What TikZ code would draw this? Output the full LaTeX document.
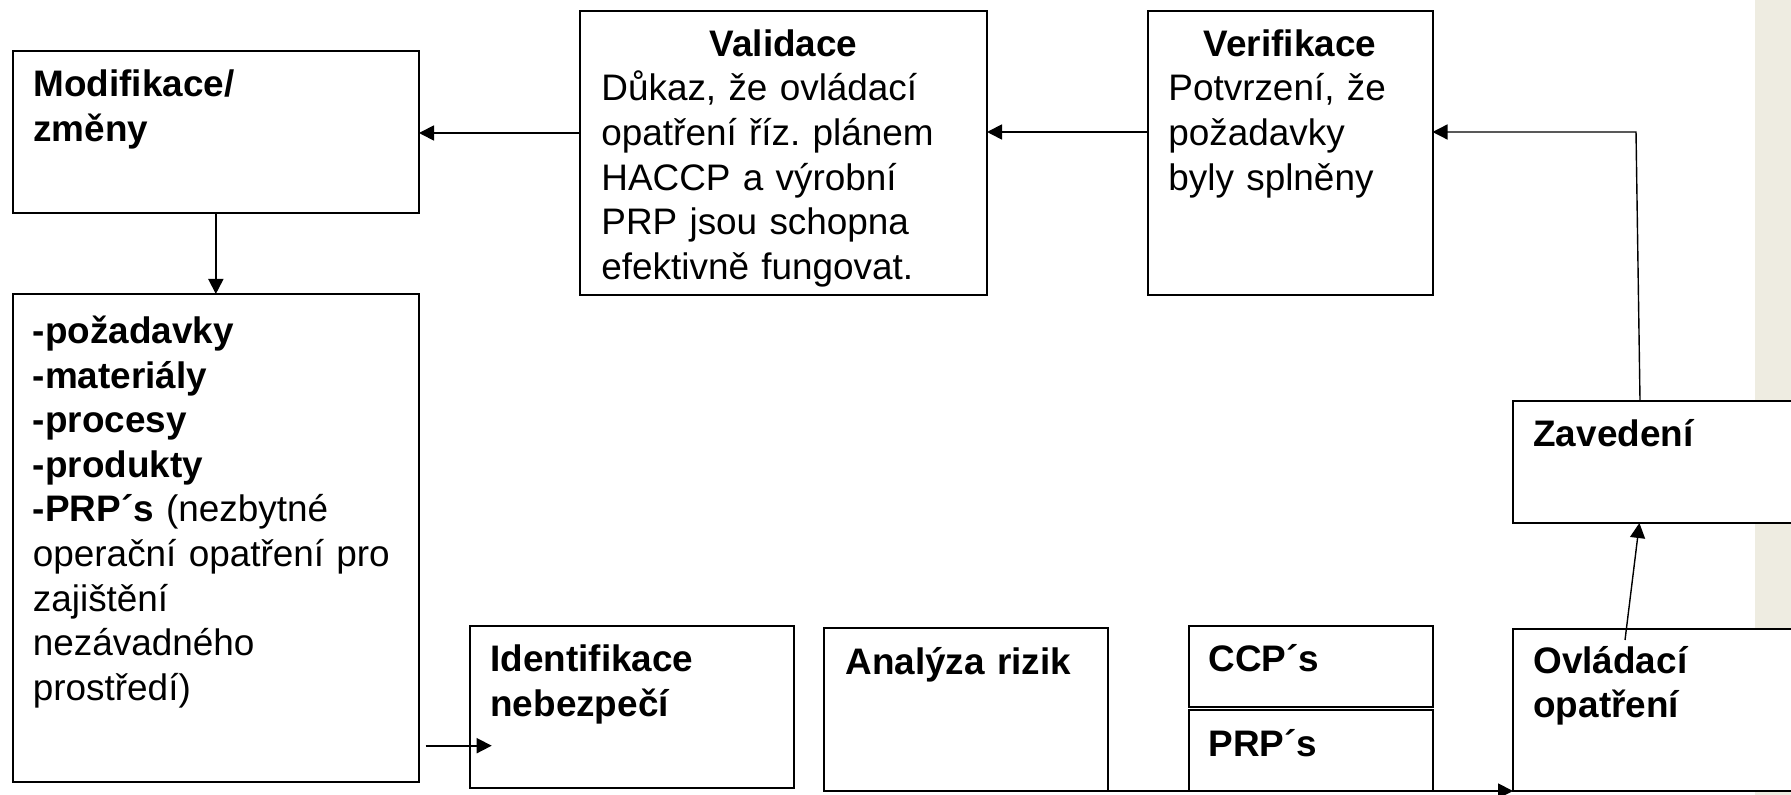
\documentclass[tikz,border=0pt]{standalone}
\usepackage{fontspec}
\setmainfont{Liberation Sans}
\usetikzlibrary{arrows.meta,calc}
\definecolor{bggray}{HTML}{EEECE1}
\frenchspacing
\begin{document}
\begin{tikzpicture}[x=0.5pt,y=-0.5pt,
  box/.style={draw=black, line width=1pt, fill=white, rectangle, inner sep=0pt, outer sep=0pt, anchor=north west},
  txt/.style={inner sep=0pt, anchor=base west, align=left, text width=250pt, font=\fontsize{18.45}{22.3}\selectfont},
  btxt/.style={txt, font=\fontsize{18.45}{22.3}\selectfont\bfseries},
  ttl/.style={inner sep=0pt, anchor=base, font=\fontsize{18.45}{22.3}\selectfont\bfseries},
  arr/.style={line width=0.9pt, -{Triangle[length=7.5pt,width=7.5pt]}},
  thinarr/.style={line width=0.7pt, -{Triangle[length=7.5pt,width=7.5pt]}},
]
\useasboundingbox (0,0) rectangle (1791,795);
\fill[white] (0,0) rectangle (1791,795);
\fill[bggray] (1755,0) rectangle (1791,795);

% boxes
\node[box, minimum width=203.15pt, minimum height=81pt] (mod) at (12.7,51) {};
\node[box, minimum width=203.15pt, minimum height=243.75pt] (list) at (12.7,294) {};
\node[box, minimum width=203.5pt, minimum height=142.15pt] (val) at (580,10.7) {};
\node[box, minimum width=142.25pt, minimum height=142.15pt] (ver) at (1148,10.7) {};
\node[box, minimum width=143.5pt, minimum height=61pt] (zav) at (1513,401) {};
\node[box, minimum width=143.5pt, minimum height=81pt] (ovl) at (1513,629) {};
\node[box, minimum width=162pt, minimum height=81pt] (ide) at (470,626) {};
\node[box, minimum width=142pt, minimum height=81.5pt] (ana) at (824,628) {};
\node[box, minimum width=121.75pt, minimum height=40.5pt] (ccp) at (1189,626) {};
\node[box, minimum width=121.75pt, minimum height=40.75pt] (prp) at (1189,709.5) {};

% texts
\node[btxt] (modtxt) at (33,96.7) {Modifikace/\\změny};
\node[txt] (listtxt) at (32.5,343.5) {\textbf{-požadavky}\\\textbf{-materiály}\\\textbf{-procesy}\\\textbf{-produkty}\\\textbf{-PRP´s} (nezbytné\\operační opatření pro\\zajištění\\nezávadného\\prostředí)};
\node[ttl] (valttl) at (783.5,56.7) {Validace};
\node[txt] (valtxt) at (601,101) {Důkaz, že ovládací\\opatření říz. plánem\\HACCP a výrobní\\PRP jsou schopna\\efektivně fungovat.};
\node[ttl] (verttl) at (1290,56.7) {Verifikace};
\node[txt] (vertxt) at (1168,101) {Potvrzení, že\\požadavky\\byly splněny};
\node[btxt] (zavtxt) at (1533,446.7) {Zavedení};
\node[btxt] (ovltxt) at (1533,673.3) {Ovládací\\opatření};
\node[btxt] (idetxt) at (490,671.7) {Identifikace\\nebezpečí};
\node[btxt] (anatxt) at (845,674) {Analýza rizik};
\node[btxt] (ccptxt) at (1208,671.7) {CCP´s};
\node[btxt] (prptxt) at (1208,756) {PRP´s};

% helper coordinates
\coordinate (r1) at (0,133);
\coordinate (r2) at (0,132);
\coordinate (r4) at (0,745.7);
\coordinate (c7) at (1636,132);

% connectors
\draw[arr] (val.west |- r1) -- (mod.east |- r1);
\draw[arr] (ver.west |- r2) -- (val.east |- r2);
\draw[arr] (mod.south) -- (list.north);
\draw[arr] ([xshift=3.35pt]list.east |- r4) -- ([xshift=10.85pt]ide.west |- r4);
\draw[arr] (ana.south east) -- (ovl.south west);
\draw[thinarr] ($(ovl.north west)+(112,11)$) -- ($(zav.south west)+(126.4,0)$);
\draw[thinarr] ($(zav.north west)+(127,0)$) -- (c7) -- (ver.east |- r2);
\end{tikzpicture}
\end{document}
